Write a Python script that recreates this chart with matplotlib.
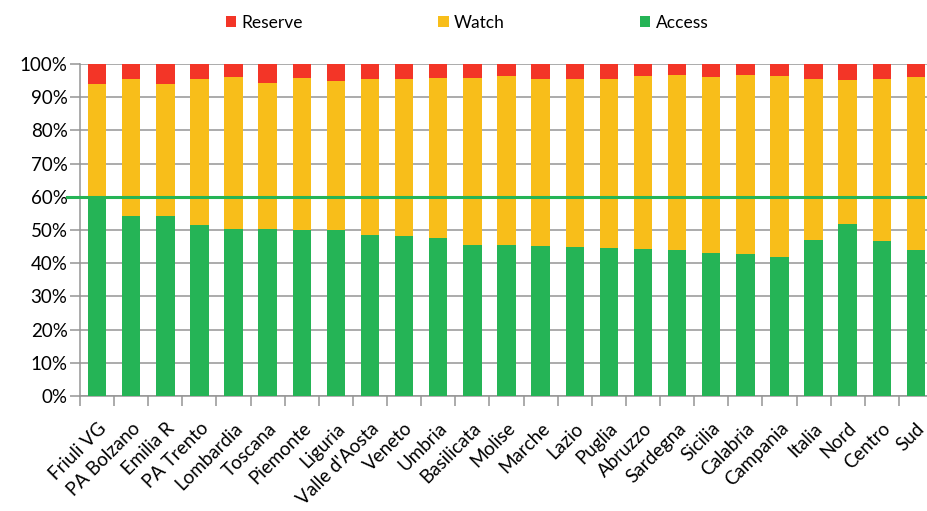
import numpy as np
import matplotlib
matplotlib.use('Agg')
import matplotlib.pyplot as plt

plt.rcParams['font.family'] = ['Lato', 'DejaVu Sans']

regions = ['Friuli VG', 'PA Bolzano', 'Emilia R', 'PA Trento', 'Lombardia', 'Toscana',
           'Piemonte', 'Liguria', "Valle d'Aosta", 'Veneto', 'Umbria', 'Basilicata',
           'Molise', 'Marche', 'Lazio', 'Puglia', 'Abruzzo', 'Sardegna', 'Sicilia',
           'Calabria', 'Campania', 'Italia', 'Nord', 'Centro', 'Sud']

# shares in %
access = [60.0, 54.3, 54.2, 51.6, 50.3, 50.2, 50.1, 50.0, 48.5, 48.2, 47.5, 45.5,
          45.4, 45.1, 44.8, 44.5, 44.2, 43.9, 43.2, 42.8, 41.8, 46.9, 51.8, 46.7, 43.9]
watch_top = [93.9, 95.6, 94.1, 95.4, 96.1, 94.3, 95.9, 95.0, 95.6, 95.5, 95.8, 95.9,
             96.5, 95.6, 95.5, 95.5, 96.5, 96.7, 96.0, 96.6, 96.4, 95.6, 95.2, 95.5, 96.2]

access = np.array(access) / 100
watch = np.array(watch_top) / 100 - access
reserve = 1 - access - watch

target = 0.60

c_res = '#F33527'
c_watch = '#F8BE1A'
c_acc = '#25B456'
grid_c = '#959595'

fig = plt.figure(figsize=(9.28, 5.11), dpi=100)
ax = fig.add_axes([80/928, 115/511, 853/928, 332/511])

x = np.arange(len(regions))
w = 0.54
b1 = ax.bar(x, access, w, color=c_acc, zorder=3, label='Access')
b2 = ax.bar(x, watch, w, bottom=access, color=c_watch, zorder=3, label='Watch')
b3 = ax.bar(x, reserve, w, bottom=access + watch, color=c_res, zorder=3, label='Reserve')

ax.axhline(target, xmin=-0.015, xmax=1, color=c_acc, lw=2.2, zorder=4, clip_on=False)

ax.set_xlim(-0.5, len(regions) - 0.5)
ax.set_ylim(0, 1)
ax.set_yticks(np.arange(0, 1.01, 0.1))
ax.set_yticklabels(['%d%%' % v for v in range(0, 101, 10)])
ax.yaxis.grid(True, color=grid_c, lw=1.1, zorder=0)

ax.set_xticks(x)
ax.set_xticklabels(regions, rotation=45, ha='right', rotation_mode='anchor')
ax.set_xticks(np.arange(-0.5, len(regions), 1), minor=True)
ax.tick_params(axis='x', which='major', length=0, pad=17, labelsize=13.5)
ax.tick_params(axis='x', which='minor', length=7, width=1.1, color=grid_c, direction='out')
ax.tick_params(axis='y', length=7, width=1.1, color=grid_c, direction='out', labelsize=13.5, pad=2)

for s in ['top', 'right']:
    ax.spines[s].set_visible(False)
for s in ['left', 'bottom']:
    ax.spines[s].set_color(grid_c)
    ax.spines[s].set_linewidth(1.1)

fig.legend([b3, b2, b1], ['Reserve', 'Watch', 'Access'], loc='center',
           bbox_to_anchor=(467/928, 1 - 23/511), ncol=3, frameon=False, fontsize=12.5,
           handlelength=0.6, handleheight=0.6, handletextpad=0.3, columnspacing=7.8)

fig.savefig('out.png', dpi=100)
